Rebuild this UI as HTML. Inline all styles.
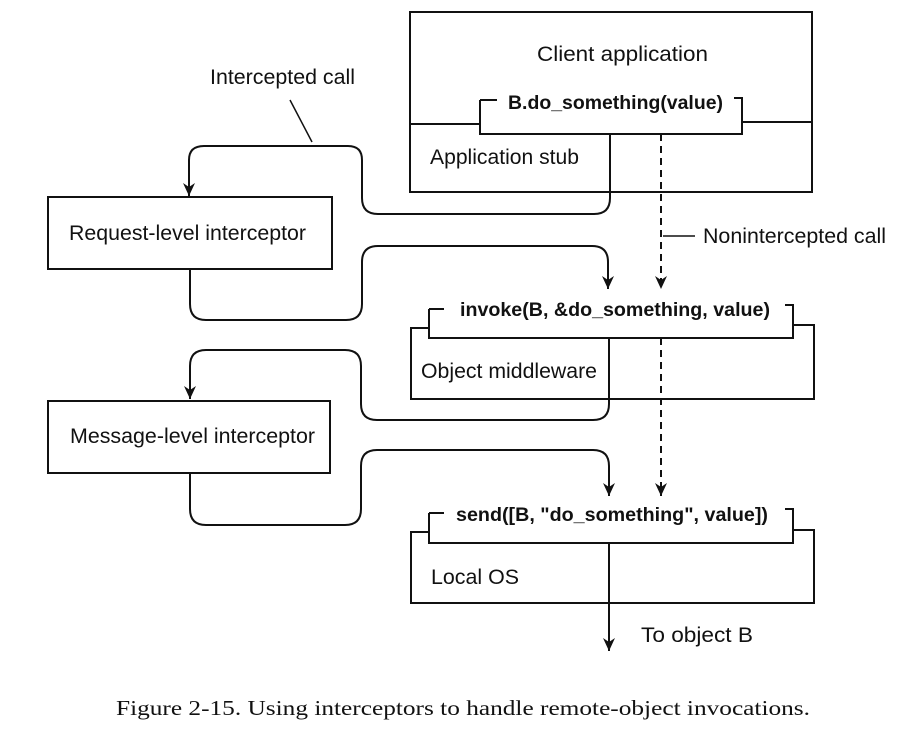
<!DOCTYPE html>
<html><head><style>
body{margin:0;background:#fff;}
svg{display:block}
text{font-family:"Liberation Sans",Arial,sans-serif;fill:#111}
.b{font-weight:bold;font-size:19px}
.n{font-size:21px}
</style></head><body>
<svg width="900" height="729" viewBox="0 0 900 729">
<defs>
<marker id="d" markerWidth="12" markerHeight="14" refX="6" refY="13" orient="0" markerUnits="userSpaceOnUse"><path d="M0,0 L6,13 L12,0 L6,4 Z" fill="#111"/></marker></defs>
<g fill="none" stroke="#111" stroke-width="2">
<path d="M410,12 H812 V192 H410 Z"/>
<path d="M410,124 H480 M742,122 H812"/>
<path d="M480,100 V134 H742 V98 H734 M480,100 H497"/>
<path d="M429,328 H411 V399 H814 V325 H793"/>
<path d="M429,309 V338 H793 V305 H785 M429,309 H444"/>
<path d="M429,532 H411 V603 H814 V530 H793"/>
<path d="M429,513 V543 H793 V509 H785 M429,513 H444"/>
<rect x="48" y="197" width="284" height="72"/>
<rect x="48" y="401" width="282" height="72"/>
<path d="M610,134 V198 Q610,214 594,214 H378 Q362,214 362,198 V160 Q362,146 348,146 H204 Q189,146 189,160 V196" marker-end="url(#d)"/>
<path d="M190,269 V304 Q190,320 206,320 H346 Q362,320 362,304 V262 Q362,246 378,246 H592 Q608,246 608,262 V289" marker-end="url(#d)"/>
<path d="M609,338 V404 Q609,420 593,420 H377 Q361,420 361,404 V366 Q361,350 345,350 H206 Q190,350 190,366 V399" marker-end="url(#d)"/>
<path d="M190,473 V509 Q190,525 206,525 H345 Q361,525 361,509 V466 Q361,450 377,450 H593 Q609,450 609,466 V496" marker-end="url(#d)"/>
<path d="M609,543 V651" marker-end="url(#d)"/>
<path d="M661,134 V289" stroke-dasharray="7,5" marker-end="url(#d)"/>
<path d="M661,338 V496" stroke-dasharray="7,5" marker-end="url(#d)"/>
<path d="M663,236 H695" stroke-width="1.5"/>
<path d="M290,100 L312,142" stroke-width="1.5"/>
</g>
<g lengthAdjust="spacingAndGlyphs">
<text x="537" y="61" class="n" textLength="171" lengthAdjust="spacingAndGlyphs">Client application</text>
<text x="508" y="109" class="b" textLength="215" lengthAdjust="spacingAndGlyphs">B.do_something(value)</text>
<text x="430" y="164" class="n" textLength="149" lengthAdjust="spacingAndGlyphs">Application stub</text>
<text x="210" y="84" class="n" textLength="145" lengthAdjust="spacingAndGlyphs">Intercepted call</text>
<text x="69" y="240" class="n" textLength="237" lengthAdjust="spacingAndGlyphs">Request-level interceptor</text>
<text x="703" y="243" class="n" textLength="183" lengthAdjust="spacingAndGlyphs">Nonintercepted call</text>
<text x="460" y="316" class="b" textLength="310" lengthAdjust="spacingAndGlyphs">invoke(B, &amp;do_something, value)</text>
<text x="421" y="378" class="n" textLength="176" lengthAdjust="spacingAndGlyphs">Object middleware</text>
<text x="70" y="443" class="n" textLength="245" lengthAdjust="spacingAndGlyphs">Message-level interceptor</text>
<text x="456" y="521" class="b" textLength="312" lengthAdjust="spacingAndGlyphs">send([B, "do_something", value])</text>
<text x="431" y="584" class="n" textLength="88" lengthAdjust="spacingAndGlyphs">Local OS</text>
<text x="641" y="642" class="n" textLength="112" lengthAdjust="spacingAndGlyphs">To object B</text>
<text x="116" y="715" style="font-family:'Liberation Serif',serif;font-size:21px" textLength="694" lengthAdjust="spacingAndGlyphs">Figure 2-15.  Using  interceptors  to handle  remote-object   invocations.</text>
</g>
</svg>
</body></html>
